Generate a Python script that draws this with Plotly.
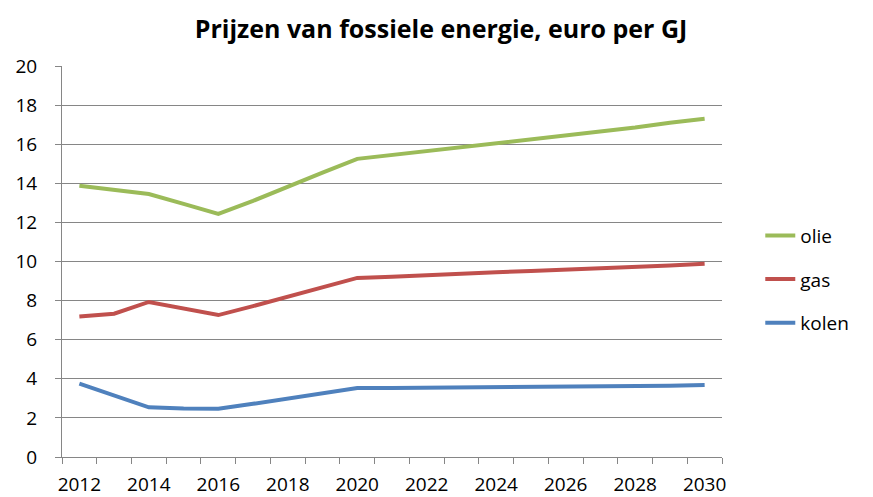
import plotly.graph_objects as go

years = list(range(2012, 2031))
olie = [13.88, 13.65, 13.45, 12.95, 12.43, 13.1, 13.85, 14.55, 15.25, 15.45, 15.62, 15.8, 16.0, 16.2, 16.4, 16.6, 16.85, 17.1, 17.3]
gas = [7.19, 7.33, 7.93, 7.6, 7.26, 7.72, 8.2, 8.7, 9.16, 9.22, 9.28, 9.35, 9.45, 9.52, 9.58, 9.64, 9.7, 9.8, 9.89]
kolen = [3.75, 3.15, 2.54, 2.48, 2.47, 2.72, 2.98, 3.23, 3.53, 3.53, 3.54, 3.57, 3.58, 3.62, 3.63, 3.63, 3.63, 3.64, 3.68]
tick_years = list(range(2012, 2031, 2))
y_ticks = list(range(0, 21, 2))

series = [("olie", olie, "#9BBB59"), ("gas", gas, "#C0504D"), ("kolen", kolen, "#4F81BD")]

fig = go.Figure()
for name, vals, color in series:
    fig.add_trace(go.Scatter(x=years, y=vals, name=name, mode="lines",
                             legendgroup=name,
                             line=dict(color=color, width=4)))

font_family = "Open Sans"
W, H = 865, 489  # page body has an 8px margin
fig.update_layout(
    width=W, height=H,
    margin=dict(l=54, r=151, t=58, b=40, autoexpand=False),
    paper_bgcolor="white", plot_bgcolor="white",
    title=dict(text="<b>Prijzen van fossiele energie, euro per GJ</b>",
               x=433/W, xanchor="center", y=1-21/H, yanchor="middle",
               font=dict(family=font_family, size=25, color="black")),
    font=dict(family=font_family, size=19, color="black"),
    showlegend=True,
    legend=dict(x=1.058, xanchor="left", y=0.615, yanchor="top",
                tracegroupgap=16, font=dict(size=19, family=font_family),
                bgcolor="rgba(0,0,0,0)"),
)
fig.update_xaxes(
    range=[2011.5, 2030.5], tickvals=tick_years, ticktext=[str(y) for y in tick_years],
    showgrid=False, showline=True, linecolor="#868686", linewidth=1,
    ticks="", tickfont=dict(size=19), ticklabelstandoff=10, automargin=False,
    minor=dict(tick0=2011.5, dtick=1, ticks="outside", ticklen=6, tickcolor="#868686", showgrid=False),
    zeroline=False,
)
fig.update_yaxes(
    range=[0, 20], tickvals=y_ticks, showgrid=True, gridcolor="#868686", gridwidth=1,
    showline=True, linecolor="#868686", linewidth=1,
    ticks="outside", ticklen=6, tickcolor="#868686", tickfont=dict(size=19),
    ticklabelstandoff=14, automargin=False,
    zeroline=False,
)
fig.write_html("out.html")
